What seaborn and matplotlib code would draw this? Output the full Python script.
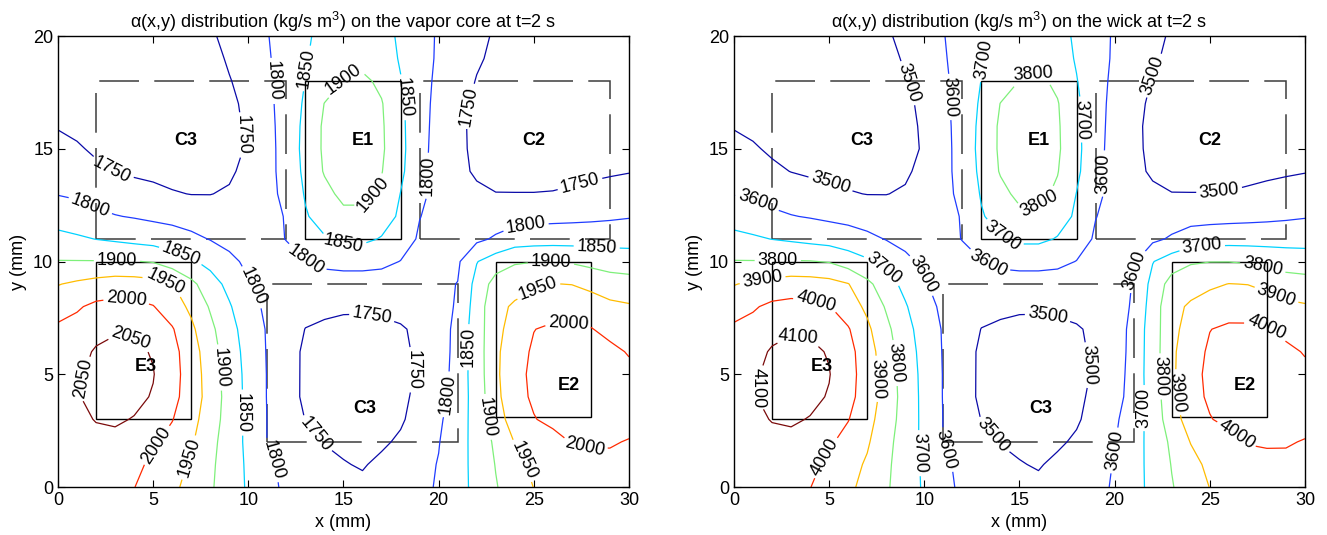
import numpy as np
import matplotlib
matplotlib.use("Agg")
import matplotlib.pyplot as plt
from matplotlib.patches import Rectangle
import seaborn as sns

# ---------------- data ----------------
x_mm = np.arange(0, 31)   # grid columns (mm)
y_mm = np.arange(0, 21)   # grid rows (mm)

# alpha(x,y) on the vapor core (kg/s m^3), rows y = 0..20, columns x = 0..30
vapor = [
    [2025,2022,2018,2012,2001,1980,1960,1935,1906,1875,1844,1815,1790,1777,1766,1760,1758,1762,1771,1785,1806,1833,1863,1897,1924,1951,1965,1976,1982,1985,1985],
    [2028,2030,2030,2025,2012,1990,1968,1944,1909,1876,1842,1808,1790,1777,1764,1752,1747,1758,1772,1787,1802,1832,1865,1902,1933,1962,1978,1986,1990,1992,1992],
    [2030,2040,2044,2040,2030,2007,1983,1956,1915,1876,1839,1799,1782,1765,1748,1743,1741,1744,1756,1777,1798,1830,1867,1909,1952,1967,1986,2002,2004,2003,1998],
    [2035,2045,2051,2055,2048,2023,2002,1967,1924,1879,1838,1799,1775,1749,1743,1738,1737,1739,1745,1766,1792,1827,1869,1928,1972,1998,2010,2018,2020,2018,2012],
    [2040,2047,2062,2066,2060,2047,2014,1977,1930,1880,1837,1798,1764,1744,1740,1735,1734,1736,1742,1759,1780,1822,1872,1936,1986,2006,2018,2025,2026,2022,2015],
    [2035,2043,2062,2066,2062,2052,2018,1977,1927,1878,1836,1798,1762,1745,1738,1734,1733,1735,1741,1754,1774,1822,1874,1940,1988,2008,2020,2027,2028,2022,2010],
    [2020,2037,2054,2060,2058,2047,2016,1973,1922,1874,1833,1797,1765,1744,1740,1737,1736,1737,1743,1756,1772,1819,1875,1940,1982,2006,2016,2020,2018,2010,1997],
    [2009,2015,2038,2046,2044,2022,2004,1960,1912,1866,1829,1796,1775,1749,1744,1741,1740,1742,1746,1758,1772,1817,1875,1937,1969,1999,2008,2007,2002,1988,1976],
    [1979,1995,2010,2014,2012,2002,1974,1940,1895,1855,1815,1792,1775,1766,1758,1755,1755,1757,1763,1775,1783,1805,1874,1936,1957,1972,1979,1981,1977,1961,1955],
    [1948,1958,1968,1975,1973,1967,1952,1912,1872,1836,1803,1788,1785,1782,1780,1779,1779,1780,1782,1786,1792,1801,1866,1920,1931,1942,1951,1949,1936,1924,1919],
    [1902,1902,1902,1903,1902,1897,1876,1857,1835,1808,1793,1785,1790,1798,1810,1815,1815,1810,1799,1790,1788,1793,1848,1875,1895,1899,1899,1895,1886,1878,1875],
    [1864,1857,1849,1843,1836,1830,1822,1811,1798,1790,1785,1790,1801,1825,1846,1860,1860,1847,1820,1795,1785,1783,1790,1806,1824,1828,1830,1830,1831,1832,1832],
    [1829,1821,1810,1802,1797,1791,1786,1779,1774,1772,1775,1785,1803,1846,1868,1888,1888,1870,1843,1801,1788,1780,1777,1777,1781,1784,1786,1788,1790,1793,1797],
    [1798,1793,1783,1776,1766,1761,1753,1749,1749,1755,1765,1785,1813,1854,1886,1912,1912,1892,1849,1807,1790,1776,1758,1751,1751,1751,1752,1756,1761,1766,1772],
    [1781,1775,1759,1749,1744,1740,1737,1736,1737,1743,1763,1786,1817,1861,1904,1924,1924,1902,1860,1812,1783,1761,1744,1738,1736,1736,1737,1739,1742,1745,1748],
    [1765,1755,1743,1740,1735,1732,1730,1729,1730,1736,1755,1784,1820,1864,1908,1929,1928,1907,1863,1815,1783,1758,1742,1735,1732,1731,1731,1732,1733,1735,1737],
    [1747,1740,1736,1732,1729,1727,1726,1726,1728,1735,1758,1786,1820,1862,1908,1928,1927,1906,1861,1817,1784,1758,1741,1734,1730,1728,1727,1727,1727,1728,1729],
    [1735,1732,1729,1727,1725,1724,1724,1725,1728,1737,1764,1789,1820,1857,1901,1920,1918,1903,1859,1818,1786,1761,1743,1735,1730,1727,1725,1724,1724,1724,1725],
    [1728,1726,1724,1722,1721,1720,1721,1723,1728,1747,1770,1791,1819,1851,1876,1901,1910,1890,1852,1818,1790,1769,1748,1738,1732,1728,1725,1723,1722,1721,1721],
    [1722,1720,1719,1718,1717,1717,1718,1721,1731,1757,1776,1795,1820,1847,1867,1882,1884,1872,1846,1821,1793,1774,1755,1742,1735,1730,1726,1723,1721,1719,1718],
    [1717,1716,1715,1714,1713,1713,1715,1720,1743,1764,1781,1798,1821,1844,1862,1872,1874,1866,1843,1818,1795,1778,1761,1745,1737,1731,1727,1723,1720,1718,1716],
]

# alpha(x,y) on the wick (kg/s m^3), rows y = 0..20, columns x = 0..30
wick = [
    [4050,4044,4036,4024,4002,3960,3920,3870,3812,3750,3688,3630,3580,3554,3532,3520,3516,3524,3542,3570,3612,3666,3726,3794,3848,3902,3930,3952,3964,3970,3970],
    [4056,4060,4060,4050,4024,3980,3936,3888,3818,3752,3684,3616,3580,3554,3528,3504,3494,3516,3544,3574,3604,3664,3730,3804,3866,3924,3956,3972,3980,3984,3984],
    [4060,4080,4088,4080,4060,4014,3966,3912,3830,3752,3678,3598,3564,3530,3496,3486,3482,3488,3512,3554,3596,3660,3734,3818,3904,3934,3972,4004,4008,4006,3996],
    [4070,4090,4102,4110,4096,4046,4004,3934,3848,3758,3676,3598,3550,3498,3486,3476,3474,3478,3490,3532,3584,3654,3738,3856,3944,3996,4020,4036,4040,4036,4024],
    [4080,4094,4124,4132,4120,4094,4028,3954,3860,3760,3674,3596,3528,3488,3480,3470,3468,3472,3484,3518,3560,3644,3744,3872,3972,4012,4036,4050,4052,4044,4030],
    [4070,4086,4124,4132,4124,4104,4036,3954,3854,3756,3672,3596,3524,3490,3476,3468,3466,3470,3482,3508,3548,3644,3748,3880,3976,4016,4040,4054,4056,4044,4020],
    [4040,4074,4108,4120,4116,4094,4032,3946,3844,3748,3666,3594,3530,3488,3480,3474,3472,3474,3486,3512,3544,3638,3750,3880,3964,4012,4032,4040,4036,4020,3994],
    [4018,4030,4076,4092,4088,4044,4008,3920,3824,3732,3658,3592,3550,3498,3488,3482,3480,3484,3492,3516,3544,3634,3750,3874,3938,3998,4016,4014,4004,3976,3952],
    [3958,3990,4020,4028,4024,4004,3948,3880,3790,3710,3630,3584,3550,3532,3516,3510,3510,3514,3526,3550,3566,3610,3748,3872,3914,3944,3958,3962,3954,3922,3910],
    [3896,3916,3936,3950,3946,3934,3904,3824,3744,3672,3606,3576,3570,3564,3560,3558,3558,3560,3564,3572,3584,3602,3732,3840,3862,3884,3902,3898,3872,3848,3838],
    [3804,3804,3804,3806,3804,3794,3752,3714,3670,3616,3586,3570,3580,3596,3620,3630,3630,3620,3598,3580,3576,3586,3696,3750,3790,3798,3798,3790,3772,3756,3750],
    [3728,3714,3698,3686,3672,3660,3644,3622,3596,3580,3570,3580,3602,3650,3692,3720,3720,3694,3640,3590,3570,3566,3580,3612,3648,3656,3660,3660,3662,3664,3664],
    [3658,3642,3620,3604,3594,3582,3572,3558,3548,3544,3550,3570,3606,3692,3736,3776,3776,3740,3686,3602,3576,3560,3554,3554,3562,3568,3572,3576,3580,3586,3594],
    [3596,3586,3566,3552,3532,3522,3506,3498,3498,3510,3530,3570,3626,3708,3772,3824,3824,3784,3698,3614,3580,3552,3516,3502,3502,3502,3504,3512,3522,3532,3544],
    [3562,3550,3518,3498,3488,3480,3474,3472,3474,3486,3526,3572,3634,3722,3808,3848,3848,3804,3720,3624,3566,3522,3488,3476,3472,3472,3474,3478,3484,3490,3496],
    [3530,3510,3486,3480,3470,3464,3460,3458,3460,3472,3510,3568,3640,3728,3816,3858,3856,3814,3726,3630,3566,3516,3484,3470,3464,3462,3462,3464,3466,3470,3474],
    [3494,3480,3472,3464,3458,3454,3452,3452,3456,3470,3516,3572,3640,3724,3816,3856,3854,3812,3722,3634,3568,3516,3482,3468,3460,3456,3454,3454,3454,3456,3458],
    [3470,3464,3458,3454,3450,3448,3448,3450,3456,3474,3528,3578,3640,3714,3802,3840,3836,3806,3718,3636,3572,3522,3486,3470,3460,3454,3450,3448,3448,3448,3450],
    [3456,3452,3448,3444,3442,3440,3442,3446,3456,3494,3540,3582,3638,3702,3752,3802,3820,3780,3704,3636,3580,3538,3496,3476,3464,3456,3450,3446,3444,3442,3442],
    [3444,3440,3438,3436,3434,3434,3436,3442,3462,3514,3552,3590,3640,3694,3734,3764,3768,3744,3692,3642,3586,3548,3510,3484,3470,3460,3452,3446,3442,3438,3436],
    [3434,3432,3430,3428,3426,3426,3430,3440,3486,3528,3562,3596,3642,3688,3724,3744,3748,3732,3686,3636,3590,3556,3522,3490,3474,3462,3454,3446,3440,3436,3432],
]

levels_vapor = [1750, 1800, 1850, 1900, 1950, 2000, 2050]
levels_wick = [3500, 3600, 3700, 3800, 3900, 4000, 4100]

titles = ["\u03b1(x,y) distribution (kg/s m$^3$) on the vapor core at t=2 s",
          "\u03b1(x,y) distribution (kg/s m$^3$) on the wick at t=2 s"]

# component regions: name, x0, y0, width, height, kind
regions = [
    ("C3", 2, 11, 10, 7, "cond"),
    ("E1", 13, 11, 5, 7, "evap"),
    ("C2", 19, 11, 10, 7, "cond"),
    ("E3", 2, 3, 5, 7, "evap"),
    ("C3", 11, 2, 10, 7, "cond"),
    ("E2", 23, 3.1, 5, 6.9, "evap"),
]
region_label_pos = [(6.7, 15.35), (16.0, 15.35), (25.0, 15.35), (4.6, 5.35), (16.1, 3.5), (26.85, 4.5)]

label_pos_vapor = [(11.2, 18.0), (12.8, 18.6), (14.3, 18.6), (18.3, 17.3), (9.6, 15.6), (21.5, 16.9),
                   (2.8, 14.0), (16.4, 13.1), (19.2, 13.8), (27.5, 13.2), (1.6, 12.3), (24.6, 11.3),
                   (15.0, 10.7), (28.3, 10.6), (6.5, 10.4), (3.1, 10.1), (12.9, 9.9), (10.3, 8.9),
                   (25.9, 9.9), (5.6, 9.0), (25.3, 8.6), (3.6, 8.4), (26.8, 7.4), (16.5, 7.6),
                   (3.8, 6.6), (8.5, 5.3), (21.6, 6.2), (18.7, 5.2), (1.3, 4.8), (20.5, 4.1),
                   (9.6, 3.3), (22.5, 3.1), (13.5, 2.3), (5.3, 1.8), (6.9, 1.3), (27.7, 1.9),
                   (24.5, 1.2), (11.3, 1.2)]
label_pos_wick = [(9.1, 17.9), (11.45, 17.3), (12.9, 19.0), (15.7, 18.3), (18.3, 16.3), (21.85, 18.3),
                  (19.4, 13.9), (5.0, 13.3), (1.2, 12.6), (16.0, 12.6), (25.5, 13.1), (14.0, 11.0),
                  (24.6, 10.5), (2.3, 10.1), (1.5, 9.2), (7.7, 9.5), (9.9, 9.4), (13.3, 9.8),
                  (21.0, 9.6), (27.8, 9.8), (28.5, 8.5), (4.3, 8.2), (28.0, 7.1), (16.5, 7.65),
                  (3.4, 6.7), (8.5, 5.5), (7.6, 4.8), (18.6, 5.4), (1.2, 4.4), (22.3, 4.9),
                  (23.3, 4.2), (21.5, 3.5), (13.5, 2.2), (9.7, 1.5), (11.0, 1.6), (20.2, 1.6),
                  (26.2, 2.1), (4.8, 1.3)]

# ---------------- style ----------------
sns.set_style("ticks")
plt.rcParams['font.family'] = ['Liberation Sans', 'DejaVu Sans']
plt.rcParams['mathtext.fontset'] = 'custom'
plt.rcParams['mathtext.rm'] = 'Liberation Sans'
plt.rcParams['mathtext.it'] = 'Liberation Sans'
plt.rcParams['text.color'] = 'black'
plt.rcParams['axes.labelcolor'] = 'black'
plt.rcParams['xtick.color'] = 'black'
plt.rcParams['ytick.color'] = 'black'

line_colors = ['#0a0aa8', '#1f3cff', '#00d2ff', '#7ef07a', '#ffbc00', '#ff2a00', '#7a0a0a']

fig = plt.figure(figsize=(13.27, 5.35), dpi=100)
ax_l = fig.add_axes([0.0437, 0.0897, 0.4303, 0.8430])
ax_r = fig.add_axes([0.5531, 0.0897, 0.4303, 0.8430])

X, Y = np.meshgrid(x_mm, y_mm)

for ax, field, levels, title, lpos in [
        (ax_l, vapor, levels_vapor, titles[0], label_pos_vapor),
        (ax_r, wick, levels_wick, titles[1], label_pos_wick)]:
    Z = np.array(field, dtype=float)
    cs = ax.contour(X, Y, Z, levels=levels, colors=line_colors, linewidths=0.9)
    ax.clabel(cs, manual=lpos, inline=True, inline_spacing=3, fmt='%d',
              fontsize=13, colors='black')

    for (name, x0, y0, w, h, kind), (tx, ty) in zip(regions, region_label_pos):
        if kind == "cond":
            rect = Rectangle((x0, y0), w, h, fill=False, edgecolor='#3c3c3c',
                             linewidth=1.1, linestyle=(0, (26, 10)))
        else:
            rect = Rectangle((x0, y0), w, h, fill=False, edgecolor='black', linewidth=1.0)
        ax.add_patch(rect)
        ax.text(tx, ty, name, ha='center', va='center', fontsize=13, fontweight='bold',
                color='black')

    ax.set_xlim(0, 30)
    ax.set_ylim(0, 20)
    ax.set_xticks([0, 5, 10, 15, 20, 25, 30])
    ax.set_yticks([0, 5, 10, 15, 20])
    ax.tick_params(direction='in', top=True, right=True, labelsize=13, length=5, width=0.8,
                   colors='black')
    for s in ax.spines.values():
        s.set_linewidth(1.0)
        s.set_color('black')
    ax.set_xlabel('x (mm)', fontsize=13, labelpad=4)
    ax.set_ylabel('y (mm)', fontsize=13, labelpad=4)
    ax.set_title(title, fontsize=13, pad=6)

fig.savefig('out.png', dpi=100, facecolor='white')
